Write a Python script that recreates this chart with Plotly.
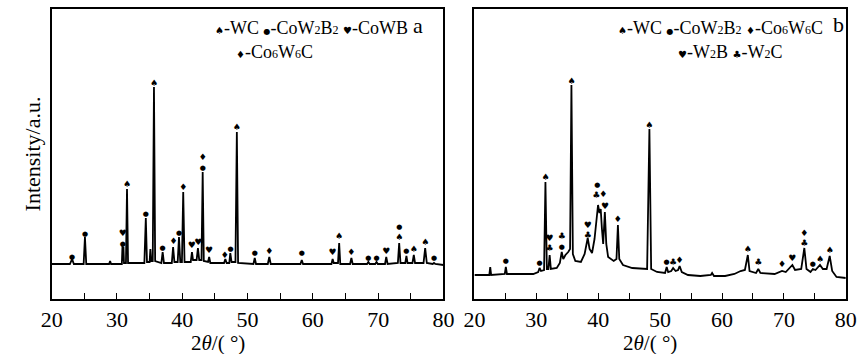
import plotly.graph_objects as go

# ---------------- data ----------------
# Panel a: digitised XRD pattern (2theta in degrees, intensity in a.u.)
a_two_theta = [20.0, 22.8, 23.13, 23.4, 24.9, 25.1, 25.3, 28.8, 28.95, 29.1,
               30.75, 30.85, 30.93, 31.0, 31.08, 31.38, 31.54, 31.7,
               34.2, 34.42, 34.6, 35.0, 35.12, 35.25, 35.48, 35.67, 35.85,
               36.8, 37.0, 37.2, 38.4, 38.6, 38.8, 39.3, 39.5, 39.7,
               39.95, 40.15, 40.35, 41.3, 41.49, 41.65, 42.2, 42.4, 42.6,
               42.95, 43.13, 43.3, 43.95, 44.12, 44.3, 46.4, 46.6, 46.8,
               47.2, 47.36, 47.55, 48.15, 48.36, 48.55, 50.9, 51.1, 51.3,
               53.1, 53.33, 53.55, 58.1, 58.3, 58.5, 62.85, 63.03, 63.2,
               63.85, 64.03, 64.2, 65.7, 65.9, 66.1, 68.3, 68.5, 68.7,
               69.55, 69.75, 69.95, 71.05, 71.24, 71.45, 73.02, 73.22, 73.42,
               74.15, 74.33, 74.5, 75.25, 75.46, 75.65, 76.95, 77.2, 77.45,
               78.35, 78.55, 78.75, 80.0]
a_intensity = [35, 35, 40, 35, 35, 62, 35, 35, 38, 35,
               35, 54, 38, 52, 36, 36, 110, 36,
               36, 81, 37, 37, 50, 38, 38, 212, 38,
               36, 47, 36, 36, 52, 37, 37, 62, 37,
               37, 107, 37, 37, 47, 39, 39, 51, 39,
               39, 127, 38, 37, 42, 36, 36, 40, 36,
               36, 46, 37, 37, 167, 36, 35, 41, 35,
               35, 42, 35, 35, 39, 35, 35, 40, 36,
               36, 56, 35, 35, 41, 35, 35, 37, 35,
               35, 37, 35, 35, 42, 35, 36, 56, 36,
               36, 43, 36, 36, 44, 36, 36, 51, 36,
               35, 36, 35, 34]

# Panel a: phase markers (symbol, 2theta, intensity level)
a_mark_symbol = ["●", "●", "●", "♥", "♠", "●", "♠", "●", "♦", "●", "♦",
                 "♥", "♥", "●", "♦", "♥", "♦", "●", "♠",
                 "●", "♦", "●", "♥", "♠", "♦", "●", "●", "♥",
                 "♠", "●", "●", "♠", "♠", "●"]
a_mark_theta = [23.13, 25.1, 30.88, 30.88, 31.54, 34.42, 35.67, 37.0, 38.66, 39.5, 40.15,
                41.45, 42.45, 43.13, 43.13, 44.12, 46.5, 47.4, 48.36,
                51.1, 53.33, 58.3, 63.03, 64.03, 65.9, 68.5, 69.75, 71.24,
                73.22, 73.22, 74.33, 75.46, 77.2, 78.55]
a_mark_level = [42, 65, 55, 65, 114, 85, 215, 51, 57, 66, 111,
                53, 56, 131, 141, 48, 43, 50, 171,
                46, 47, 46, 46, 62, 46, 41, 41, 47,
                61, 72, 48, 49, 56, 41]

# Panel b: digitised XRD pattern
b_two_theta = [20.0, 22.4, 22.55, 22.7, 24.9, 25.07, 25.25, 29.5, 30.3, 30.52,
               30.75, 31.25, 31.47, 31.7, 31.95, 32.15, 32.35, 33.3, 33.8, 34.1,
               34.35, 34.7, 35.15, 35.45, 35.67, 35.9, 36.3, 37.2, 37.8, 38.3,
               38.6, 39.0, 39.4, 39.75, 39.97, 40.2, 40.4, 40.6, 40.8, 41.07,
               41.3, 41.6, 42.5, 42.95, 43.18, 43.4, 44.0, 45.5, 47.9, 48.27,
               48.55, 49.5, 50.8, 51.06, 51.3, 51.8, 52.1, 52.5, 52.9, 53.15,
               53.5, 54.5, 56.5, 58.2, 58.4, 58.7, 60.5, 62.0, 63.0, 63.7,
               64.17, 64.45, 65.5, 65.86, 66.2, 68.5, 69.7, 70.3, 71.0, 71.37,
               71.8, 72.8, 73.3, 73.65, 74.3, 74.68, 75.1, 75.5, 75.83, 76.3,
               76.9, 77.4, 77.8, 78.5, 80.0]
b_intensity = [24, 24, 32, 24, 25, 32, 25, 25, 27, 31,
               28, 29, 117, 30, 30, 44, 30, 31, 36, 47,
               40, 44, 47, 50, 214, 45, 38, 37, 45, 61,
               50, 46, 60, 85, 94, 86, 90, 70, 55, 87,
               55, 42, 38, 40, 74, 40, 34, 31, 30, 170,
               30, 27, 26, 32, 27, 28, 31, 28, 29, 33,
               27, 24, 23, 24, 26, 23, 23, 25, 28, 29,
               44, 28, 26, 30, 26, 25, 28, 27, 31, 34,
               29, 30, 51, 30, 27, 30, 29, 32, 34, 30,
               30, 43, 28, 22, 21]

# Panel b: phase markers
b_mark_symbol = ["●", "●", "♠", "♣", "♥", "●", "♣", "♠", "♣", "♥",
                 "♣", "●", "♦", "♥", "♦", "♠", "●", "♣", "♦", "♠",
                 "♣", "♦", "♥", "♣", "♦", "●", "♠", "♠"]
b_mark_theta = [25.07, 30.52, 31.47, 32.15, 32.15, 34.1, 34.1, 35.67, 38.3, 38.3,
                39.7, 39.87, 40.8, 41.1, 43.18, 48.27, 51.06, 52.1, 53.15, 64.17,
                65.86, 69.7, 71.37, 73.3, 73.3, 74.68, 75.83, 77.4]
b_mark_level = [38, 36, 121, 50, 60, 52, 62, 217, 63, 73,
                103, 114, 104, 92, 79, 173, 37, 36, 38, 49,
                36, 34, 40, 55, 65, 35, 39, 48]

x_tick_vals = [20, 30, 40, 50, 60, 70, 80]
x_tick_text = ["20", "30", "40", "50", "60", "70", "80"]

legend_a_line1 = [("♠", "-WC"), ("●", "-CoW<sub>2</sub>B<sub>2</sub>"), ("♥", "-CoWB")]
legend_a_line2 = [("♦", "-Co<sub>6</sub>W<sub>6</sub>C")]
legend_b_line1 = [("♠", "-WC"), ("●", "-CoW<sub>2</sub>B<sub>2</sub>"),
                  ("♦", "-Co<sub>6</sub>W<sub>6</sub>C")]
legend_b_line2 = [("♥", "-W<sub>2</sub>B"), ("♣", "-W<sub>2</sub>C")]
x_title = "2<i>θ</i>/( °)"
y_title = "Intensity/a.u."

# ---------------- figure ----------------
W, H = 868, 354
SERIF = "Liberation Serif, Times New Roman, DejaVu Serif, serif"
SYM = "DejaVu Sans, sans-serif"
SYM_SIZE = {"●": 7, "♠": 9, "♥": 9, "♦": 9, "♣": 9}


def px_x(p):
    return p / W


def px_y(p):
    return 1 - p / H


def legend_text(items, gap):
    parts = []
    for s, label in items:
        lab = label.replace("<sub>", "<span style='font-size:12px'>").replace("</sub>", "</span>")
        parts.append("<span style='font-family:DejaVu Sans;font-size:%dpx'>%s</span>%s"
                     % (SYM_SIZE[s] + 1, s, lab))
    return gap.join(parts)


fig = go.Figure()

line_style = dict(color="black", width=1.8)
fig.add_trace(go.Scatter(x=a_two_theta, y=a_intensity, mode="lines",
                         line=line_style, xaxis="x", yaxis="y",
                         hoverinfo="skip", showlegend=False))
fig.add_trace(go.Scatter(x=b_two_theta, y=b_intensity, mode="lines",
                         line=line_style, xaxis="x2", yaxis="y2",
                         hoverinfo="skip", showlegend=False))
fig.add_trace(go.Scatter(x=a_mark_theta, y=a_mark_level, mode="text",
                         text=a_mark_symbol, textposition="middle center",
                         textfont=dict(family=SYM, size=[SYM_SIZE[s] for s in a_mark_symbol],
                                       color="black"),
                         xaxis="x", yaxis="y", hoverinfo="skip", showlegend=False))
fig.add_trace(go.Scatter(x=b_mark_theta, y=b_mark_level, mode="text",
                         text=b_mark_symbol, textposition="middle center",
                         textfont=dict(family=SYM, size=[SYM_SIZE[s] for s in b_mark_symbol],
                                       color="black"),
                         xaxis="x2", yaxis="y2", hoverinfo="skip", showlegend=False))

top_px, bot_px = 9, 299
ydom = [px_y(bot_px), px_y(top_px)]
xdom_a = [px_x(41.7), px_x(443.7)]
xdom_b = [px_x(475.5), px_x(856.5)]

xaxis_common = dict(range=[20, 80], tickvals=x_tick_vals, ticktext=x_tick_text,
                    ticks="inside", ticklen=6, tickwidth=1.2, tickcolor="black",
                    minor=dict(dtick=5, tick0=20, ticks="inside", ticklen=6, tickwidth=1.2,
                               tickcolor="black", showgrid=False),
                    showline=True, linecolor="black", linewidth=1.6, mirror=True,
                    showgrid=False, zeroline=False,
                    tickfont=dict(family=SERIF, size=22, color="black"))
yaxis_common = dict(range=[0, 290], showticklabels=False, ticks="",
                    showline=True, linecolor="black", linewidth=1.6, mirror=True,
                    showgrid=False, zeroline=False)

fig.update_layout(
    width=W, height=H, margin=dict(l=0, r=0, t=0, b=0),
    paper_bgcolor="white", plot_bgcolor="white",
    xaxis=dict(domain=xdom_a, anchor="y", **xaxis_common),
    yaxis=dict(domain=ydom, anchor="x", **yaxis_common),
    xaxis2=dict(domain=xdom_b, anchor="y2", **xaxis_common),
    yaxis2=dict(domain=ydom, anchor="x2", **yaxis_common),
)

ann = []
legend_font = dict(family=SERIF, size=18, color="black")
ann.append(dict(x=px_x(207), y=px_y(28), xref="paper", yref="paper",
                text=legend_text(legend_a_line1, " "),
                xanchor="left", yanchor="middle", showarrow=False, font=legend_font))
ann.append(dict(x=px_x(229), y=px_y(52), xref="paper", yref="paper",
                text=legend_text(legend_a_line2, " "),
                xanchor="left", yanchor="middle", showarrow=False, font=legend_font))
ann.append(dict(x=px_x(621), y=px_y(28), xref="paper", yref="paper",
                text=legend_text(legend_b_line1, " "),
                xanchor="left", yanchor="middle", showarrow=False, font=legend_font))
ann.append(dict(x=px_x(682), y=px_y(52), xref="paper", yref="paper",
                text=legend_text(legend_b_line2, " "),
                xanchor="left", yanchor="middle", showarrow=False, font=legend_font))
ann.append(dict(x=px_x(418), y=px_y(26), xref="paper", yref="paper", text="a",
                xanchor="center", yanchor="middle", showarrow=False,
                font=dict(family=SERIF, size=22, color="black")))
ann.append(dict(x=px_x(849), y=px_y(25), xref="paper", yref="paper", text="b",
                xanchor="center", yanchor="middle", showarrow=False,
                font=dict(family=SERIF, size=22, color="black")))
ann.append(dict(x=px_x(212), y=px_y(343), xref="paper", yref="paper", text=x_title,
                xanchor="center", yanchor="middle", showarrow=False,
                font=dict(family=SERIF, size=21, color="black")))
ann.append(dict(x=px_x(656), y=px_y(343), xref="paper", yref="paper", text=x_title,
                xanchor="center", yanchor="middle", showarrow=False,
                font=dict(family=SERIF, size=21, color="black")))
ann.append(dict(x=px_x(22), y=px_y(154), xref="paper", yref="paper", text=y_title,
                xanchor="center", yanchor="middle", showarrow=False, textangle=-90,
                font=dict(family=SERIF, size=22, color="black")))
fig.update_layout(annotations=ann)

fig.write_html("out.html")
